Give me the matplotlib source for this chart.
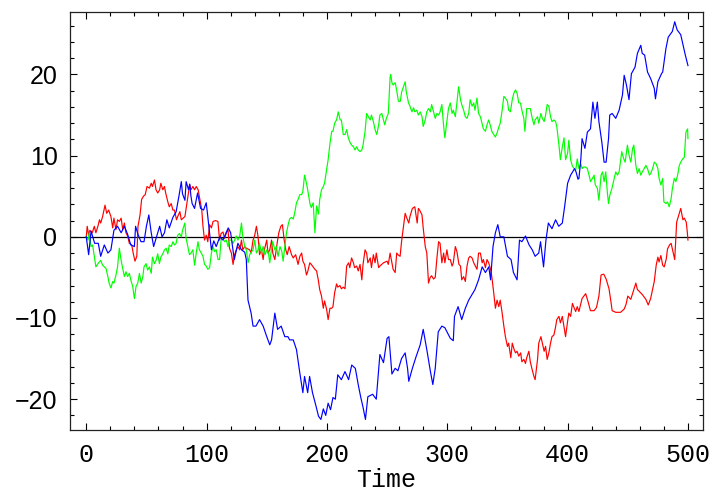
import matplotlib
matplotlib.use("Agg")
import matplotlib.pyplot as plt
from matplotlib.ticker import MultipleLocator

# ---- data (time step, value) ----
blue_t = [0, 2, 4, 7, 10, 12, 15, 18, 20.5, 23, 26, 29, 31.7, 34.4, 37, 40, 41, 43, 45.5, 48,
          50, 52, 54, 56, 59, 61, 63, 65, 67, 69, 72, 74.7, 77, 79, 80, 82, 83, 85, 86, 87,
          88, 90, 92.5, 95, 97.5, 99.7, 101, 104, 106, 108, 111, 113.6, 118, 120, 123, 126, 129, 131.7, 133, 134.4,
          137, 138.6, 141, 144, 147, 150, 152.5, 154, 156.7, 159, 162, 165, 167.6, 169, 172, 174.7, 177.5, 180, 181.4, 184,
          185.6, 188, 191, 193, 195, 197, 199, 201, 203, 205, 207, 209, 212, 215, 218, 220.6, 223.6, 226, 228, 230,
          232, 234, 238, 241, 244, 247, 250, 251.5, 254, 256.7, 259, 262, 265, 267, 268, 271, 274, 277.5, 280, 283,
          286, 288, 290, 292.5, 295.5, 298, 302.5, 305, 306, 309, 312, 315, 317.8, 320.6, 323, 326, 329, 331.7, 334.5, 336,
          338, 340, 342, 344, 347, 350, 353, 355, 358, 360, 362, 365, 368, 370.6, 373, 376, 377.5, 380, 382, 384,
          387, 390, 392.6, 395.6, 397.5, 400, 402.5, 405.8, 407, 408.6, 409.4, 411, 412, 414.4, 416.4, 419, 421, 422.7, 424.7, 426,
          428.4, 430.3, 432, 434, 435, 437, 440, 442.8, 445.6, 447, 448.9, 451, 453, 456, 458, 460.8, 462, 464, 466.4, 469,
          472, 473, 475, 478, 479, 481.7, 483.6, 487, 489, 491, 494, 496, 497.8, 500]
blue_v = [0, -2.2, 0.7, -0.8, -0.8, -2.4, -1.0, -2.0, -1.6, 0.8, 1.3, 0.5, 1.3, 0.3, -1.0, -1.2, 1.3, 0.3, -0.6, -0.6,
          1.3, 2.7, 0.5, -1.2, 0.3, 1.3, 0.0, 0.5, 2.1, 1.1, 2.4, 3.1, 5.0, 6.8, 5.3, 4.5, 6.8, 5.8, 6.5, 5.0,
          4.1, 3.5, 5.4, 3.5, 3.3, 4.2, 2.5, -1.6, -0.5, -1.2, 0.0, -0.4, 1.1, 0.5, -2.8, -0.8, -1.6, -1.9, -2.8, -7.8,
          -9.4, -11.0, -11.0, -10.2, -11.0, -12.3, -13.3, -12.7, -9.4, -11.4, -11.0, -12.3, -12.3, -12.7, -12.7, -13.9, -16.8, -19.2, -17.2, -19.2,
          -17.2, -19.2, -20.9, -22.1, -22.5, -21.2, -22.0, -20.5, -21.3, -19.8, -20.0, -17.0, -17.6, -16.6, -17.6, -15.8, -16.2, -18.2, -19.7, -21.0,
          -22.5, -19.7, -19.4, -20.0, -14.5, -15.5, -12.5, -12.3, -16.9, -16.2, -16.5, -15.0, -14.3, -16.2, -17.8, -16.2, -14.8, -13.3, -11.4, -13.9,
          -16.6, -18.2, -16.2, -11.7, -11.0, -11.2, -12.5, -12.8, -9.8, -8.6, -10.2, -8.8, -7.8, -7.1, -6.5, -5.3, -3.7, -4.4, -3.7, -5.3,
          -1.2, 0.5, 1.5, 0.0, 0.0, -2.4, -2.8, -4.4, -5.3, -0.4, -0.6, 0.1, -1.0, -1.6, -2.4, -2.0, -0.6, -3.7, -0.4, 1.7,
          1.0, 2.1, 1.3, 1.7, 3.7, 6.6, 7.6, 8.4, 8.0, 7.1, 7.2, 9.6, 12.1, 10.9, 12.9, 13.3, 16.6, 14.6, 16.6, 14.2,
          11.7, 9.2, 9.2, 12.1, 15.0, 15.2, 14.6, 15.6, 17.5, 19.9, 18.7, 16.9, 20.1, 20.9, 22.6, 23.6, 22.6, 22.4, 20.3, 19.5,
          18.3, 17.0, 19.1, 20.1, 20.3, 23.2, 24.6, 25.3, 26.5, 25.5, 24.9, 23.6, 22.4, 21.1]

red_t = [0, 0.8, 2, 3, 5, 6.7, 8, 9.7, 11, 12, 13.6, 15.6, 17, 18.6, 20.5, 22, 23, 24.7, 26, 27.5,
         29, 30.3, 31.7, 33, 34.4, 35.8, 37.8, 39, 40.5, 42, 43, 44.7, 46, 47.5, 49, 50.5, 52.5, 54, 55, 56.7,
         58, 59.4, 61, 62, 63.6, 65, 66, 67.8, 69, 70.6, 72, 73.3, 75, 76, 77.8, 79, 82, 84.4, 86, 87,
         88.6, 90, 91.4, 93, 95, 96, 97, 98.3, 99.7, 101, 102.5, 104, 105.4, 107.5, 109.4, 110.8, 112, 113.6, 115, 116.4,
         117.8, 119, 120.6, 122, 123.3, 124.7, 126, 127.5, 129, 130, 131.7, 133, 135.8, 137, 138.6, 140, 141.4, 142.8, 144, 145.6,
         147, 148, 150, 151, 152.5, 154, 155, 156.7, 158.6, 160, 161.7, 163, 164.4, 165.8, 167, 168.6, 170.6, 172, 174, 176,
         177.5, 179, 180, 181.4, 183, 184, 185.8, 187, 189, 190, 191.4, 192.8, 194, 195.5, 197, 198, 199.7, 201, 202.5, 204,
         205, 206.4, 208, 209, 210.8, 212, 213.6, 215, 216.4, 218, 219, 220.5, 222, 223, 224.7, 226, 227.5, 229, 230, 231.7,
         233, 234, 236, 237, 238.6, 240, 241, 243, 244, 247, 250, 251, 252.5, 254, 255, 256.7, 258, 259, 260.8, 262,
         263.6, 265, 266.4, 268, 269, 271, 273, 275, 276, 277, 279, 280, 281.7, 283, 284.4, 285.8, 287, 288.6, 290, 291.4,
         292.8, 294, 295.5, 297, 298, 299.7, 301, 302.5, 304, 305, 306.7, 308, 309.7, 311, 312, 313.6, 315, 316.4, 317.8, 319,
         320.6, 322, 324.7, 326, 327.5, 329, 330, 331.7, 333, 334.4, 336, 337, 338.6, 340, 341.4, 342.8, 344, 345.6, 347, 348.3,
         350, 351, 352.8, 354, 355.6, 356.7, 358, 359.4, 361, 362, 363.6, 365, 366, 367.8, 369, 370.6, 372, 373, 375, 376,
         377.8, 379, 380.5, 381.7, 383, 384.4, 385.8, 387, 388.6, 390, 391, 392.8, 394, 395.6, 397, 398.3, 400, 401, 402.5, 404,
         405, 406.7, 408, 409.4, 412, 415, 417, 419, 422, 424, 426, 427.8, 430, 432, 434.4, 436, 437, 440, 444, 447,
         448.6, 450, 452.5, 455, 456.7, 458, 459.4, 462, 465, 467, 469, 472, 473.6, 475, 476, 477.5, 479, 480.3, 482, 483,
         484.7, 486, 487.5, 489, 490, 490.6, 492.8, 494, 495.8, 497, 498.6, 499.5, 500]
red_v = [0, 1.3, 0.2, 0.8, 0.5, 1.3, 0.5, 1.3, 2.1, 1.7, 2.5, 3.9, 2.9, 3.3, 2.5, 1.1, 2.3, 0.9, 2.1, 1.9,
         2.3, 0.9, 1.7, 0.5, 0.1, -0.8, -1.0, -2.0, -3.0, -2.4, 1.3, 2.7, 4.6, 5.0, 5.2, 6.2, 6.0, 6.6, 6.2, 7.0,
         5.8, 5.4, 5.8, 6.6, 5.8, 6.2, 5.4, 4.3, 3.7, 4.1, 3.3, 3.3, 2.1, 2.5, 3.1, 2.1, 2.5, 4.9, 6.4, 5.8,
         6.2, 5.8, 6.2, 5.8, 4.1, 3.3, 1.3, -0.4, 0.2, -0.6, 1.5, 1.1, 1.9, 2.0, 1.9, -0.4, 0.4, 0.6, -0.2, 0.5,
         0.9, -1.4, -2.0, -3.4, -2.2, -1.6, -1.2, -1.6, -0.4, -1.6, -1.2, -1.4, -1.6, -2.0, -0.4, 0.2, 1.3, 0.0, -2.2, -1.6,
         -2.8, -1.6, -0.4, -2.0, -1.6, -0.4, -2.0, -2.8, -0.8, 0.5, 1.3, 1.5, -0.3, -1.6, -2.2, -1.2, -2.2, -2.6, -2.2, -3.4,
         -2.4, -2.0, -3.0, -3.4, -4.7, -4.3, -3.2, -3.4, -3.8, -4.0, -4.2, -5.3, -6.5, -7.3, -8.8, -7.9, -8.9, -10.2, -8.8, -8.8,
         -8.6, -6.9, -5.8, -6.2, -6.0, -6.4, -6.2, -6.4, -3.6, -3.2, -3.8, -2.6, -3.2, -3.8, -3.6, -4.2, -3.4, -5.3, -3.4, -1.6,
         -2.0, -3.2, -2.6, -3.8, -2.2, -3.2, -2.0, -3.8, -3.6, -3.2, -3.0, -3.4, -2.0, -3.2, -4.0, -4.4, -2.0, -2.2, -2.4, -0.6,
         1.3, 2.9, 2.3, 1.7, 2.5, 3.5, 3.7, 1.7, 3.5, 3.3, 2.7, 1.1, -1.2, -2.0, -5.7, -5.0, -4.8, -5.2, -5.0, -2.6,
         -0.6, -0.8, -3.2, -2.0, -3.2, -1.6, -2.8, -2.8, -3.6, -3.2, -1.2, -1.8, -3.4, -3.6, -5.3, -4.9, -5.5, -3.6, -2.6, -2.4,
         -2.6, -3.2, -4.0, -2.0, -2.0, -3.2, -2.8, -3.8, -2.8, -3.2, -4.0, -4.9, -6.9, -8.8, -7.8, -8.6, -7.8, -9.4, -11.0, -12.3,
         -13.5, -13.1, -14.9, -13.1, -13.9, -14.3, -14.1, -14.7, -14.3, -15.4, -15.1, -15.6, -14.9, -14.1, -15.4, -16.4, -17.2, -17.6, -15.1, -13.1,
         -12.3, -13.1, -14.1, -13.5, -15.1, -14.3, -13.1, -12.3, -12.1, -11.1, -10.2, -9.8, -10.6, -9.8, -11.1, -12.3, -10.4, -9.4, -9.8, -8.2,
         -8.6, -9.2, -8.6, -9.2, -7.6, -7.0, -8.0, -9.1, -9.1, -8.7, -7.3, -4.7, -4.6, -5.2, -6.4, -8.0, -9.1, -9.3, -9.3, -8.9,
         -8.3, -7.3, -7.7, -6.5, -5.7, -6.5, -6.7, -7.1, -7.7, -8.4, -7.6, -5.5, -3.5, -2.5, -3.1, -2.3, -3.5, -3.7, -2.7, -1.5,
         -1.0, -0.8, -1.8, -2.8, 0.0, 1.8, 2.9, 3.5, 2.1, 2.3, 1.8, 0.5, -0.4]

green_t = [0, 1.5, 2.5, 4, 5.3, 6.7, 8, 9.7, 10.8, 12, 13.6, 15, 16.4, 18, 19, 20.5, 22, 23, 24.7, 26,
           27.5, 29, 30.3, 31.7, 33, 34.4, 35.8, 37, 38.6, 40, 41.4, 42.8, 44.2, 45.6, 47, 48, 49.7, 51, 52.5, 54,
           55, 56.7, 58, 59.4, 60.8, 62, 63.6, 65, 66.4, 67.8, 69, 70.6, 72, 73.3, 74.7, 76, 77.5, 79, 80, 81.9,
           83, 84.4, 85.8, 87, 88.6, 90, 91.4, 92.8, 94, 95.6, 97, 98.3, 99.7, 101, 102.5, 104, 105.3, 106.7, 108, 109.5,
           110.8, 112, 113.6, 115, 116.4, 117.8, 119, 120.6, 122, 123.3, 124.7, 126, 127.5, 129, 130, 131.7, 133, 134.5, 135.8, 138.6,
           140, 141.4, 142.8, 144, 145.6, 147, 148.6, 150, 151.4, 152.5, 154, 155, 156.7, 158, 159.4, 161, 162.5, 163.6, 165, 166.4,
           167.8, 169, 170.6, 172, 173.3, 174.7, 176, 177.5, 179, 180, 181.4, 183, 184, 186, 187, 188.6, 190, 191.4, 193, 194,
           195.5, 197, 198, 199.7, 201, 202.5, 204, 205, 206.4, 208, 209.4, 211, 212, 213.6, 215, 216.4, 217.8, 219, 220.5, 222,
           223.3, 224.7, 226, 227.5, 229, 230, 231.7, 233, 234.4, 236, 237, 238.6, 240, 241.4, 243, 244, 245.6, 247, 248, 249.4,
           251, 252.5, 253, 254, 255, 256.7, 258, 259.4, 261, 262, 263.6, 265, 266, 267.8, 269, 270.6, 272, 273, 274.7, 276,
           277.5, 279, 280, 281.7, 283, 284.4, 286, 287, 288.6, 290, 291.4, 292.8, 294, 295.5, 297, 298, 300, 301, 302.5, 304,
           305, 306.7, 308, 309.4, 311, 312, 313.6, 315, 316.4, 317.8, 319, 320.6, 322, 323, 324.7, 326, 327.5, 329, 330, 331.7,
           333, 334.4, 336, 337, 338.6, 340, 341.4, 343, 344, 345.6, 347, 348.3, 350, 351, 352.5, 354, 355.3, 356.7, 358, 359.4,
           360.8, 362, 363.6, 364.5, 366, 367.8, 369, 370.6, 372, 373, 375, 376, 377.8, 379, 380.5, 381.7, 383, 384.4, 385.8, 387,
           388.6, 390, 391, 392.8, 394, 395.6, 397, 398.3, 400, 401, 402.5, 404, 405, 406.7, 408, 409.4, 411, 412, 413, 415,
           416.4, 417.8, 419, 420.6, 422, 423, 424.7, 426, 427.8, 429, 430.3, 431.7, 433, 434, 435, 436.7, 438.6, 440, 441.4, 442.8,
           445, 446.4, 447.8, 449.7, 451, 452.5, 454, 455, 456.7, 458, 459.4, 460.8, 462, 463.6, 465, 466.4, 468, 469, 470.6, 472,
           473.6, 475, 476, 477.5, 479, 480, 481.7, 483, 484.4, 486, 487, 488.6, 490, 491.4, 492.8, 494, 495.6, 497, 498.3, 499.7,
           500]
green_v = [0, -0.4, 0.5, -1.2, -1.0, -2.4, -3.7, -3.3, -3.1, -2.9, -3.5, -3.7, -3.9, -4.9, -5.7, -6.3, -5.5, -5.7, -4.7, -3.7,
           -1.4, -2.9, -3.9, -4.9, -4.3, -4.9, -4.5, -5.3, -6.1, -7.6, -6.1, -5.7, -4.5, -5.7, -4.9, -3.7, -3.3, -4.1, -3.7, -4.5,
           -2.5, -3.3, -2.9, -2.1, -3.3, -2.5, -2.1, -1.6, -1.4, -2.1, -1.0, -1.2, -0.6, -1.0, -0.8, 0.2, 0.4, 0.0, 0.8, 1.7,
           -0.2, -1.2, -2.2, -2.0, -1.6, -3.5, -2.0, -0.6, -1.6, -2.0, -2.4, -3.4, -3.6, -4.0, -3.8, -2.0, -1.2, -1.8, -1.6, -2.8,
           -2.8, -0.4, -0.2, -0.6, -0.4, -1.2, -0.4, -0.4, -0.8, -0.4, 0.1, -0.4, 0.1, 1.7, 0.1, -1.2, -1.6, -3.2, -2.2, -1.6,
           -0.4, -2.0, -1.6, -0.8, -2.0, -1.2, -2.2, -1.6, -2.0, -3.2, -1.4, -0.6, -1.6, -1.2, -2.4, -1.2, -1.8, -3.0, -1.2, 0.5,
           1.5, 2.2, 2.4, 2.2, 3.0, 4.2, 4.6, 5.2, 5.2, 5.6, 7.6, 6.6, 5.8, 4.0, 3.6, 4.2, 0.5, 3.8, 2.8, 4.6,
           5.8, 6.2, 6.6, 8.2, 9.5, 11.5, 13.0, 13.0, 14.0, 14.4, 15.4, 14.4, 14.4, 12.6, 12.6, 13.2, 12.2, 11.7, 11.3, 11.1,
           10.7, 11.1, 10.7, 10.5, 10.7, 11.3, 13.0, 15.2, 14.8, 14.4, 15.0, 14.2, 13.2, 12.6, 13.8, 15.0, 15.2, 14.4, 13.8, 14.6,
           15.2, 19.7, 20.0, 19.0, 18.7, 19.0, 18.0, 16.7, 16.7, 17.8, 18.5, 19.1, 17.8, 16.5, 16.1, 15.4, 15.9, 15.4, 15.6, 15.0,
           15.4, 14.8, 13.6, 14.4, 15.4, 15.8, 15.4, 16.3, 15.4, 14.6, 15.2, 15.0, 15.4, 16.3, 13.6, 12.2, 14.6, 15.8, 16.5, 15.2,
           15.6, 14.8, 16.5, 18.5, 16.9, 16.3, 15.6, 14.8, 14.6, 15.2, 16.9, 16.1, 16.5, 15.6, 17.1, 15.2, 14.8, 13.9, 13.3, 13.0,
           13.8, 14.4, 13.6, 13.0, 12.6, 12.3, 12.8, 13.6, 14.0, 15.6, 17.3, 17.1, 16.7, 15.6, 15.4, 16.9, 17.7, 18.1, 17.7, 16.5,
           16.5, 15.6, 14.6, 13.0, 15.8, 15.8, 15.8, 14.6, 13.8, 14.4, 14.8, 14.0, 15.2, 14.6, 14.2, 15.0, 16.3, 16.1, 14.8, 14.2,
           14.4, 14.2, 13.6, 11.3, 9.5, 11.1, 12.2, 9.5, 10.3, 11.9, 9.5, 8.7, 8.5, 8.2, 9.6, 8.4, 9.0, 8.4, 8.6, 8.6,
           8.4, 7.6, 6.8, 7.2, 7.6, 6.4, 6.0, 4.5, 7.6, 8.0, 6.8, 8.0, 5.5, 4.1, 5.1, 5.9, 7.1, 8.0, 7.6, 8.0,
           10.5, 9.7, 9.2, 11.3, 10.1, 9.2, 10.9, 11.3, 8.8, 7.8, 8.4, 7.6, 8.0, 8.4, 8.8, 8.4, 7.6, 7.8, 8.4, 9.2,
           9.0, 8.4, 7.2, 6.4, 7.2, 4.3, 4.1, 4.3, 3.7, 4.7, 5.9, 7.2, 6.8, 7.6, 8.8, 9.2, 9.6, 9.8, 12.9, 13.3,
           12.1]

x_ticks = [0, 100, 200, 300, 400, 500]
y_ticks = [-20, -10, 0, 10, 20]
x_label = "Time"

fig = plt.figure(figsize=(7.09, 4.93), dpi=100)
ax = fig.add_axes([70 / 709, 1 - 430 / 493, 633 / 709, 418 / 493])

ax.axhline(0, color="black", lw=0.9, zorder=1)
ax.plot(red_t, red_v, color=(1, 0, 0), lw=0.85, zorder=2)
ax.plot(green_t, green_v, color=(0, 1, 0), lw=0.85, zorder=3)
ax.plot(blue_t, blue_v, color=(0, 0, 1), lw=0.85, zorder=4)

ax.set_xlim(-13.5, 512.5)
ax.set_ylim(-23.8, 27.7)

ax.set_xticks(x_ticks)
ax.set_yticks(y_ticks)
ax.xaxis.set_minor_locator(MultipleLocator(20))
ax.yaxis.set_minor_locator(MultipleLocator(2))
ax.set_xticklabels([str(v) for v in x_ticks], family=["Liberation Mono", "DejaVu Sans Mono"], fontsize=18)
ax.set_yticklabels([str(v).replace("-", "\u2212") for v in y_ticks],
                   family=["Liberation Sans", "DejaVu Sans"], fontsize=18)
ax.tick_params(which="both", direction="in", top=True, right=True, width=0.8, color="black")
ax.tick_params(which="major", length=5)
ax.tick_params(which="minor", length=3)
ax.tick_params(axis="x", which="major", pad=9)
ax.tick_params(axis="y", which="major", pad=9)
for s in ax.spines.values():
    s.set_linewidth(0.9)
    s.set_color("#222222")

ax.set_xlabel(x_label, family=["Liberation Mono", "DejaVu Sans Mono"], fontsize=18, labelpad=1)

fig.savefig("out.png", dpi=100)
